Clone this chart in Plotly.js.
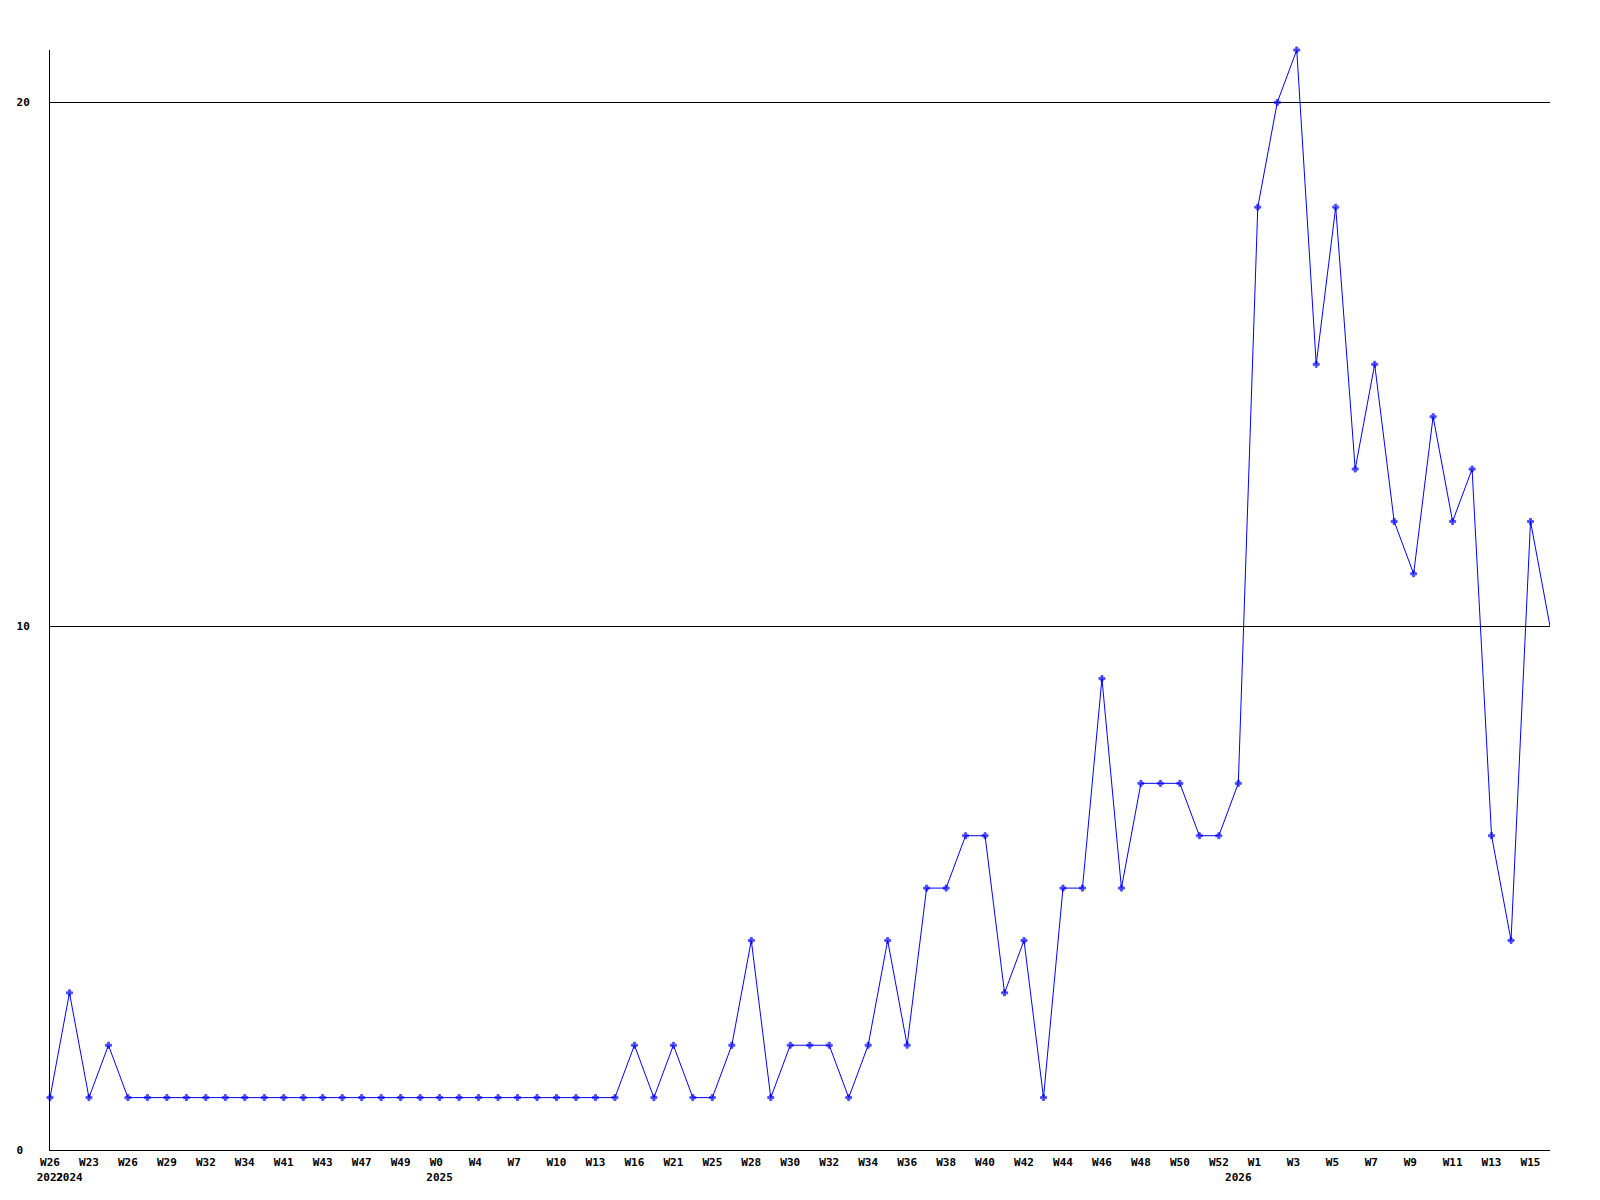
<!DOCTYPE html>
<html>
<head>
<meta charset="utf-8">
<script src="https://cdn.plot.ly/plotly-3.0.1.min.js"></script>
<style>html,body{margin:0;padding:0;background:#fff;}#chart{width:1600px;height:1200px;}</style>
</head>
<body>
<div id="chart"></div>
<script>
// Week labels for each data point
const weeks = [
  "W26","W22","W23","W24","W26","W27","W29","W31","W32","W33",
  "W34","W38","W41","W42","W43","W45","W47","W48","W49","W51",
  "W0","W2","W4","W5","W7","W8","W10","W12","W13","W15",
  "W16","W19","W21","W23","W25","W27","W28","W29","W30","W31",
  "W32","W33","W34","W35","W36","W37","W38","W39","W40","W41",
  "W42","W43","W44","W45","W46","W47","W48","W49","W50","W51",
  "W52","W0","W1","W2","W3","W4","W5","W6","W7","W8",
  "W9","W10","W11","W12","W13","W14","W15","W16"
];
// Year of each data point
const years = [
  2022,2024,2024,2024,2024,2024,2024,2024,2024,2024,
  2024,2024,2024,2024,2024,2024,2024,2024,2024,2024,
  2025,2025,2025,2025,2025,2025,2025,2025,2025,2025,
  2025,2025,2025,2025,2025,2025,2025,2025,2025,2025,
  2025,2025,2025,2025,2025,2025,2025,2025,2025,2025,
  2025,2025,2025,2025,2025,2025,2025,2025,2025,2025,
  2025,2026,2026,2026,2026,2026,2026,2026,2026,2026,
  2026,2026,2026,2026,2026,2026,2026,2026
];
// Counts per week
const counts = [
  1,3,1,2,1,1,1,1,1,1,
  1,1,1,1,1,1,1,1,1,1,
  1,1,1,1,1,1,1,1,1,1,
  2,1,2,1,1,2,4,1,2,2,
  2,1,2,4,2,5,5,6,6,3,
  4,1,5,5,9,5,7,7,7,6,
  6,7,18,20,21,15,18,13,15,12,
  11,14,12,13,6,4,12,10
];
// Y axis ticks
const yTickVals = [0, 10, 20];
const yTickText = ["0\u00A0", "10", "20"];

const NB = "\u00A0";
const categories = weeks.map((w, i) => years[i] + "-" + w);
const tickVals = [], tickText = [];
categories.forEach((c, i) => {
  const labeled = i % 2 === 0;
  const yearStart = i === 0 || years[i] !== years[i - 1];
  if (!labeled && !yearStart) return;
  let line1 = labeled ? weeks[i] : NB;
  while (labeled && line1.length < 3) line1 += NB;
  let txt = line1;
  if (yearStart) txt += "<br>" + years[i];
  tickVals.push(c);
  tickText.push(txt);
});

const markerSizes = counts.map((v, i) => (i === counts.length - 1 ? 0 : 5));

const font = { family: "DejaVu Sans Mono, Liberation Mono, monospace", size: 11, color: "#000", weight: "bold" };

const trace = {
  type: "scatter",
  mode: "lines+markers",
  x: categories,
  y: counts,
  line: { color: "#0000ff", width: 1 },
  marker: { color: "#0000ff", size: markerSizes, symbol: "cross", line: { color: "#0000ff", width: 1 } },
  cliponaxis: false,
  hoverinfo: "x+y"
};

const layout = {
  width: 1600,
  height: 1200,
  margin: { l: 50, r: 50, t: 50, b: 50, pad: 0 },
  paper_bgcolor: "#ffffff",
  plot_bgcolor: "#ffffff",
  showlegend: false,
  font: font,
  xaxis: {
    type: "category",
    categoryorder: "array",
    categoryarray: categories,
    range: [0, categories.length - 1],
    autorange: false,
    tickmode: "array",
    tickvals: tickVals,
    ticktext: tickText,
    tickangle: 0,
    ticks: "",
    showgrid: false,
    zeroline: false,
    showline: true,
    linecolor: "#000",
    linewidth: 1,
    tickfont: font,
    ticklabelstandoff: 2
  },
  yaxis: {
    range: [0, 21],
    autorange: false,
    tickmode: "array",
    tickvals: yTickVals,
    ticktext: yTickText,
    ticks: "",
    showgrid: true,
    gridcolor: "#000",
    gridwidth: 1,
    zeroline: false,
    showline: true,
    linecolor: "#000",
    linewidth: 1,
    tickfont: font,
    ticklabelstandoff: 17
  }
};

Plotly.newPlot("chart", [trace], layout, { staticPlot: true, displayModeBar: false });
</script>
</body>
</html>
